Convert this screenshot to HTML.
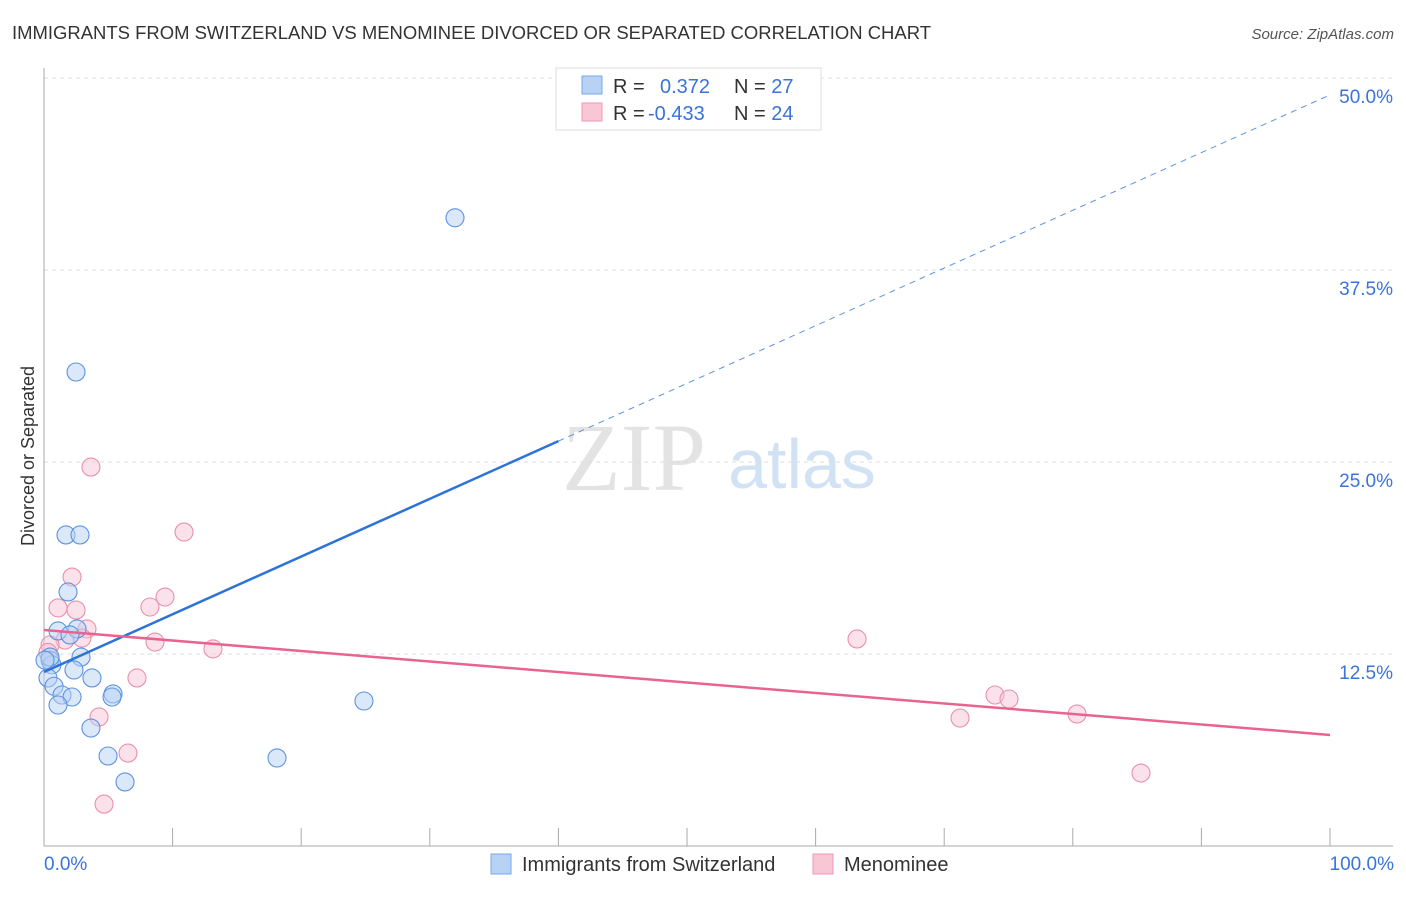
<!DOCTYPE html>
<html><head><meta charset="utf-8"><style>
body{margin:0;background:#fff;font-family:"Liberation Sans",sans-serif;}
</style></head><body>
<svg id="chart" width="1406" height="892" xmlns="http://www.w3.org/2000/svg" font-family="Liberation Sans, sans-serif">
<text x="12" y="39" font-size="18" fill="#333" textLength="919" lengthAdjust="spacingAndGlyphs">IMMIGRANTS FROM SWITZERLAND VS MENOMINEE DIVORCED OR SEPARATED CORRELATION CHART</text>
<text x="1394" y="39" font-size="15" fill="#555" text-anchor="end" font-style="italic">Source: ZipAtlas.com</text>
<text x="634" y="490" font-size="96" fill="#ddd" font-family="Liberation Serif, serif" text-anchor="middle" opacity="0.8">ZIP</text>
<text x="802" y="488" font-size="70" fill="#c8dbf3" text-anchor="middle" opacity="0.8">atlas</text>
<g id="grid"></g>
<g id="axes"></g>
<g id="marks"></g>
<text transform="translate(34,456) rotate(-90)" font-size="18" fill="#333" text-anchor="middle">Divorced or Separated</text>
<text x="44" y="870" font-size="19" fill="#3a74d8">0.0%</text>
<text x="1394" y="870" font-size="19" fill="#3a74d8" text-anchor="end">100.0%</text>
<g>
<rect x="556" y="68" width="265" height="62" fill="#fff" stroke="#ddd"/>
<rect x="582" y="76" width="20" height="18" fill="#b8d2f5" stroke="#7aa7e6"/>
<rect x="582" y="103" width="20" height="18" fill="#f8c6d5" stroke="#eb9ab3"/>
<text x="613" y="93" font-size="20" fill="#333">R = <tspan fill="#3a74d8" x="660">0.372</tspan><tspan x="734">N = </tspan><tspan fill="#3a74d8">27</tspan></text>
<text x="613" y="120" font-size="20" fill="#333">R = <tspan fill="#3a74d8" x="648">-0.433</tspan><tspan x="734">N = </tspan><tspan fill="#3a74d8">24</tspan></text>
</g>
<g>
<rect x="491" y="854" width="20" height="20" fill="#b8d2f5" stroke="#7aa7e6"/>
<text x="522" y="871" font-size="20" fill="#333">Immigrants from Switzerland</text>
<rect x="813" y="854" width="20" height="20" fill="#f8c6d5" stroke="#eb9ab3"/>
<text x="844" y="871" font-size="20" fill="#333">Menominee</text>
</g>
</svg>
<script>
const yTicks=[12.5,25,37.5,50];
const yTickLabels=["12.5%","25.0%","37.5%","50.0%"];
const xTicks=[0,10,20,30,40,50,60,70,80,90,100];
const blueX=[31.96,2.49,1.71,2.8,1.87,1.09,2.57,2.02,2.88,0.47,0.62,2.33,0.31,3.73,0.78,1.4,2.18,5.37,5.29,1.09,24.88,3.65,4.98,18.12,6.3,0.47,0.08];
const blueY=[40.9,30.86,20.25,20.25,16.54,14.0,14.13,13.74,12.3,12.1,11.8,11.46,10.94,10.94,10.4,9.83,9.7,9.9,9.7,9.18,9.44,7.68,5.86,5.73,4.17,12.3,12.1];
const pinkX=[3.65,10.89,2.18,9.41,1.09,2.49,8.24,3.34,2.95,1.63,8.63,0.47,13.14,63.22,7.23,73.95,75.04,4.28,71.23,80.33,6.53,85.3,4.67,0.31];
const pinkY=[24.67,20.44,17.51,16.21,15.5,15.36,15.56,14.13,13.54,13.41,13.28,13.09,12.83,13.48,10.94,9.83,9.57,8.4,8.33,8.59,6.05,4.75,2.73,12.6];
const blueTrend=[11.33,48.9];
const pinkTrend=[14.06,7.23];
const sx=v=>44+v*12.86;
const sy=v=>846-v*15.36;
const NS="http://www.w3.org/2000/svg";
function mk(tag,attrs,parent){const e=document.createElementNS(NS,tag);for(const k in attrs)e.setAttribute(k,attrs[k]);parent.appendChild(e);return e;}
const grid=document.getElementById('grid'),axes=document.getElementById('axes'),marks=document.getElementById('marks');
yTicks.forEach((t,i)=>{
 const l=mk('line',{x1:44,x2:1393,y1:sy(t),y2:sy(t),stroke:'#ddd','stroke-dasharray':'4,4'},grid);
 
 
 const tx=mk('text',{x:1393,y:sy(t)+25,'font-size':19,fill:'#3a74d8','text-anchor':'end'},grid);
 tx.textContent=yTickLabels[i];
 
 
});
const ya=mk('line',{x1:44,x2:44,y1:68,y2:846,stroke:'#aaa'},axes);


const xa=mk('line',{x1:44,x2:1393,y1:846,y2:846,stroke:'#aaa'},axes);


xTicks.forEach(t=>{
 const l=mk('line',{x1:sx(t),x2:sx(t),y1:828,y2:846,stroke:'#aaa'},axes);
 
 
});
function pts(X,Y,fill,stroke,name){X.forEach((x,i)=>{
 const c=mk('circle',{cx:sx(x),cy:sy(Y[i]),r:9,fill:fill,'fill-opacity':0.5,stroke:stroke,'stroke-width':1.1},marks);
 
 
});}
pts(pinkX,pinkY,'#f8c6d5','#eb8fab','menominee-point');
pts(blueX,blueY,'#b8d2f5','#5b93e0','switzerland-point');
const bx=40;
const b1=mk('line',{x1:sx(0),y1:sy(blueTrend[0]),x2:sx(bx),y2:sy(blueTrend[0]+(blueTrend[1]-blueTrend[0])*bx/100),stroke:'#2c72d9','stroke-width':2.5},marks);


const b2=mk('line',{x1:sx(bx),y1:sy(blueTrend[0]+(blueTrend[1]-blueTrend[0])*bx/100),x2:sx(100),y2:sy(blueTrend[1]),stroke:'#5b93e0','stroke-width':1,'stroke-dasharray':'6,5'},marks);


const p1=mk('line',{x1:sx(0),y1:sy(pinkTrend[0]),x2:sx(100),y2:sy(pinkTrend[1]),stroke:'#e8648f','stroke-width':2.5},marks);


</script>
</body></html>
